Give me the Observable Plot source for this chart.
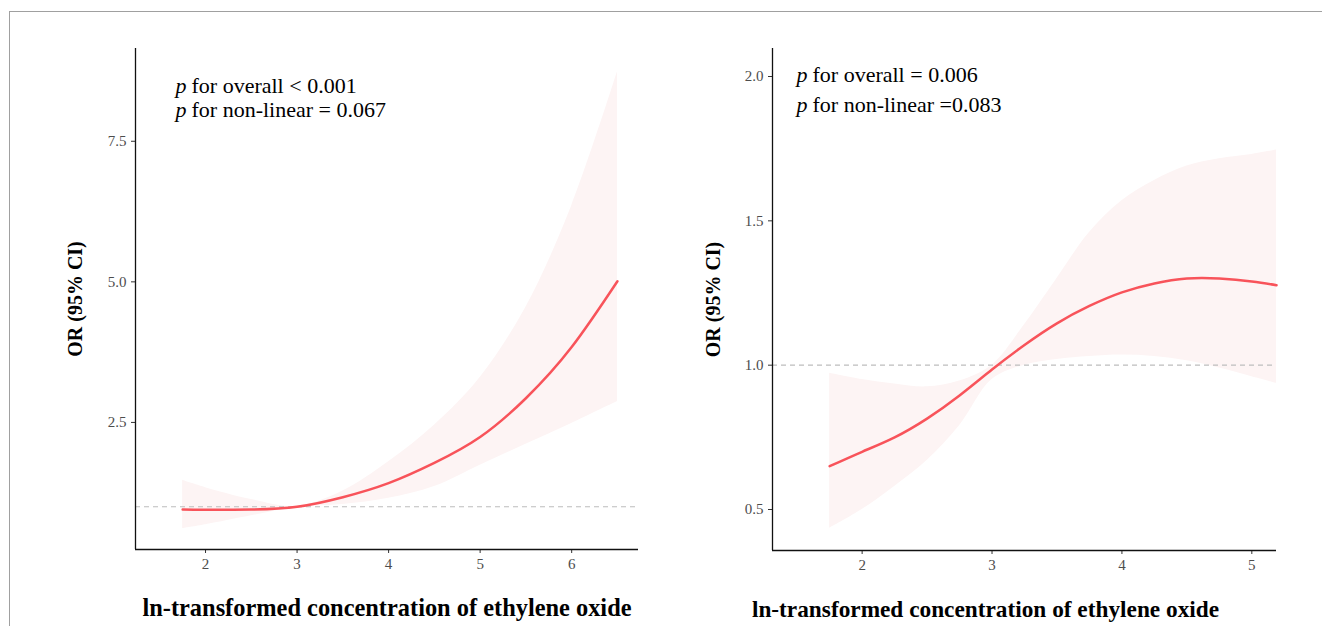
<!DOCTYPE html>
<html>
<head>
<meta charset="utf-8">
<script src="https://cdn.jsdelivr.net/npm/d3@7"></script>
<script src="https://cdn.jsdelivr.net/npm/@observablehq/plot@0.6"></script>
<style>
  html, body { margin: 0; padding: 0; background: #fff; }
  #wrap { position: relative; width: 1322px; height: 626px; overflow: hidden; }
  #border { position: absolute; left: 9px; top: 11px; right: 0; bottom: -5px; border-top: 1.5px solid #a0a0a0; border-left: 1.5px solid #a0a0a0; }
  #left { position: absolute; left: 0; top: 0; }
  #right { position: absolute; left: 660px; top: 0; }
</style>
</head>
<body>
<div id="wrap">
  <div id="border"></div>
  <div id="left"></div>
  <div id="right"></div>
</div>
<script>
// ---- Data ----
const leftX     = [1.75, 2.0, 2.5, 3.0, 3.5, 4.0, 4.5, 5.0, 5.5, 6.0, 6.5];
const leftOR    = [0.95, 0.945, 0.95, 1.0, 1.17, 1.42, 1.78, 2.24, 2.93, 3.84, 5.01];
const leftLower = [0.61, 0.68, 0.84, 0.99, 1.04, 1.15, 1.36, 1.74, 2.11, 2.48, 2.87];
const leftUpper = [1.47, 1.34, 1.13, 1.01, 1.28, 1.8, 2.45, 3.3, 4.55, 6.35, 8.73];

const rightX     = [1.75, 2.0, 2.25, 2.5, 2.75, 3.0, 3.25, 3.5, 3.75, 4.0, 4.25, 4.5, 4.75, 5.0, 5.19];
const rightOR    = [0.65, 0.70, 0.75, 0.815, 0.895, 0.985, 1.07, 1.145, 1.205, 1.252, 1.283, 1.30, 1.30, 1.29, 1.277];
const rightLower = [0.435, 0.50, 0.58, 0.67, 0.79, 0.95, 1.00, 1.02, 1.03, 1.035, 1.03, 1.015, 0.99, 0.96, 0.937];
const rightUpper = [0.972, 0.95, 0.935, 0.925, 0.945, 1.0, 1.14, 1.30, 1.46, 1.57, 1.64, 1.69, 1.715, 1.73, 1.745];

const leftXTicks  = [2, 3, 4, 5, 6];
const leftYTicks  = [2.5, 5.0, 7.5];
const rightXTicks = [2, 3, 4, 5];
const rightYTicks = [0.5, 1.0, 1.5, 2.0];

const leftXDomain  = [1.235, 6.73];
const leftYDomain  = [0.24, 9.15];
const rightXDomain = [1.31, 5.19];
const rightYDomain = [0.358, 2.097];

const refValue = 1;
const yTitle = "OR (95% CI)";
const xTitle = "ln-transformed concentration of ethylene oxide";
const leftNotes  = ["for overall < 0.001", "for non-linear = 0.067"];
const rightNotes = ["for overall = 0.006", "for non-linear =0.083"];

const FONT = "'Liberation Serif', 'Times New Roman', serif";
const LINE = "#f8535a";
const BAND = "#fdf4f4";

function rows(xs, or, lo, hi) {
  return xs.map((x, i) => ({x, or: or[i], lo: lo[i], hi: hi[i]}));
}

function panel(opts) {
  const data = rows(opts.x, opts.or, opts.lo, opts.hi);
  const noteMarks = [];
  opts.notes.forEach((t, i) => {
    noteMarks.push(Plot.text(["p"], {frameAnchor: "top-left", dx: opts.noteDx, dy: opts.noteDy[i], textAnchor: "start",
      lineAnchor: "middle", fontStyle: "italic", fontSize: 22, fill: "#000", fontFamily: FONT}));
    noteMarks.push(Plot.text([t], {frameAnchor: "top-left", dx: opts.noteDx + 16, dy: opts.noteDy[i], textAnchor: "start",
      lineAnchor: "middle", fontSize: 22, fill: "#000", fontFamily: FONT}));
  });
  return Plot.plot({
    width: opts.width, height: 626,
    marginLeft: opts.ml, marginRight: opts.mr, marginTop: 48, marginBottom: opts.mb,
    style: {fontFamily: FONT, fontSize: "15px", color: "#4d4d4d", background: "transparent", overflow: "visible"},
    x: {domain: opts.xDomain},
    y: {domain: opts.yDomain},
    marks: [
      Plot.areaY(data, {x: "x", y1: "lo", y2: "hi", fill: BAND, curve: "catmull-rom"}),
      Plot.ruleY([refValue], {stroke: "#bdbdbd", strokeWidth: 1.2, strokeDasharray: "5,4"}),
      Plot.line(data, {x: "x", y: "or", stroke: LINE, strokeWidth: 2.5, curve: "natural"}),
      Plot.axisX({ticks: opts.xTicks, tickSize: 4, tickPadding: 5, label: null, tickFormat: d3.format("d"), stroke: "#333"}),
      Plot.axisY({ticks: opts.yTicks, tickSize: 4, tickPadding: 5, label: null, tickFormat: d3.format(".1f"), stroke: "#333"}),
      Plot.ruleX([opts.xDomain[0]], {stroke: "#111", strokeWidth: 1.3}),
      Plot.ruleY([opts.yDomain[0]], {stroke: "#111", strokeWidth: 1.3}),
      Plot.text([yTitle], {frameAnchor: "left", dx: opts.ytDx, rotate: -90, textAnchor: "middle",
        fontSize: 20, fontWeight: "bold", fill: "#000", fontFamily: FONT}),
      Plot.text([xTitle], {frameAnchor: "bottom", dx: opts.xtDx, dy: 66, textAnchor: "middle",
        fontSize: opts.xtSize, fontWeight: "bold", fill: "#000", fontFamily: FONT}),
      ...noteMarks
    ]
  });
}

document.getElementById("left").appendChild(panel({
  width: 660, ml: 135, mr: 22, mb: 77,
  x: leftX, or: leftOR, lo: leftLower, hi: leftUpper,
  xDomain: leftXDomain, yDomain: leftYDomain, xTicks: leftXTicks, yTicks: leftYTicks,
  ytDx: -60, xtDx: 0, xtSize: 24.4, notes: leftNotes, noteDx: 40, noteDy: [37, 61]
}));

document.getElementById("right").appendChild(panel({
  width: 662, ml: 112, mr: 46, mb: 76,
  x: rightX, or: rightOR, lo: rightLower, hi: rightUpper,
  xDomain: rightXDomain, yDomain: rightYDomain, xTicks: rightXTicks, yTicks: rightYTicks,
  ytDx: -59, xtDx: -39, xtSize: 23.3, notes: rightNotes, noteDx: 24, noteDy: [26, 56]
}));
</script>
</body>
</html>
